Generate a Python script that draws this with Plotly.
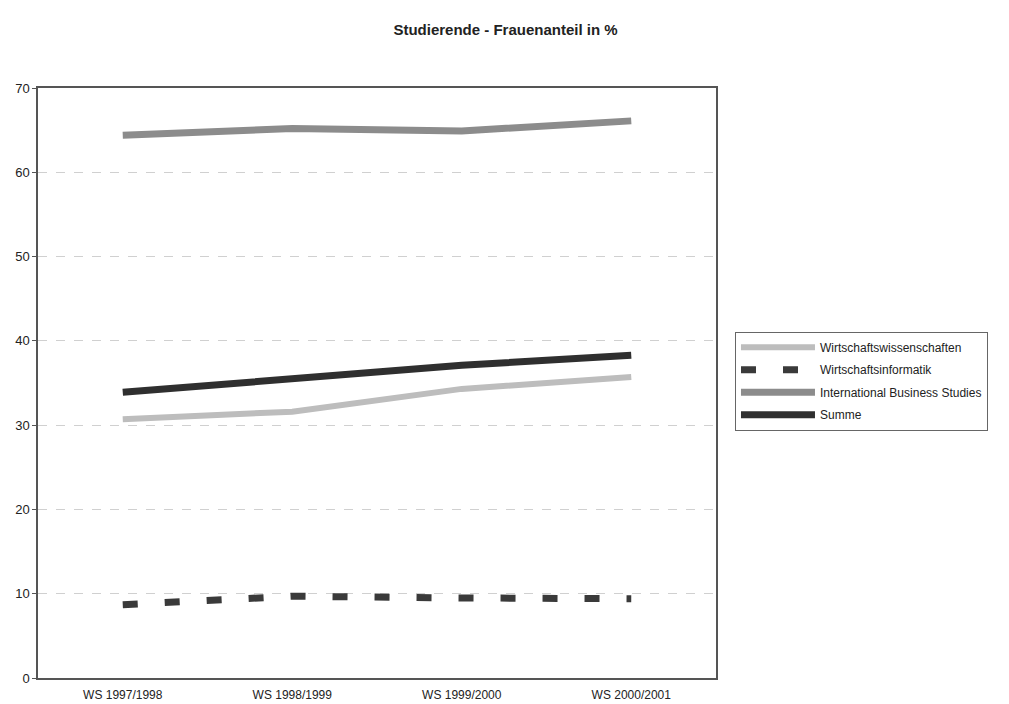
import plotly.graph_objects as go

categories = ["WS 1997/1998", "WS 1998/1999", "WS 1999/2000", "WS 2000/2001"]
wiwi = [30.7, 31.6, 34.3, 35.7]
winf = [8.7, 9.7, 9.5, 9.4]
ibs = [64.4, 65.2, 64.9, 66.1]
summe = [33.9, 35.5, 37.1, 38.3]
yticks = [0, 10, 20, 30, 40, 50, 60, 70]

FONT = "Liberation Sans, Arial, sans-serif"

fig = go.Figure()
fig.add_trace(go.Scatter(x=categories, y=wiwi, mode="lines", name="Wirtschaftswissenschaften",
                         legendgroup="a", line=dict(color="#bdbdbd", width=6)))
fig.add_trace(go.Scatter(x=categories, y=winf, mode="lines", name="Wirtschaftsinformatik",
                         legendgroup="b", line=dict(color="#3a3a3a", width=7, dash="15px,27px")))
fig.add_trace(go.Scatter(x=categories, y=ibs, mode="lines", name="International Business Studies",
                         legendgroup="c", line=dict(color="#8c8c8c", width=7)))
fig.add_trace(go.Scatter(x=categories, y=summe, mode="lines", name="Summe",
                         legendgroup="d", line=dict(color="#2f2f2f", width=7)))

W, H = 1001, 696
fig.update_layout(
    width=W, height=H,
    paper_bgcolor="white", plot_bgcolor="white",
    margin=dict(l=30, r=293, t=80, b=26, autoexpand=False),
    font=dict(family=FONT, size=12, color="#222"),
    title=dict(text="<b>Studierende - Frauenanteil in %</b>", x=0.497, xref="container",
               y=1 - 22 / H, yref="container", yanchor="middle",
               font=dict(family=FONT, size=15, color="#222")),
    showlegend=True,
    legend=dict(x=1.028, y=0.587, xanchor="left", yanchor="top",
                bordercolor="#666", borderwidth=1, bgcolor="white",
                font=dict(family=FONT, size=12, color="#222"),
                itemwidth=74, tracegroupgap=3.5),
)
fig.update_xaxes(range=[-0.5, 3.5], showline=True, linecolor="#555", linewidth=1.5,
                 mirror=True, showgrid=False, ticks="", tickfont=dict(size=12),
                 ticklabelstandoff=5, automargin=False)
fig.update_yaxes(range=[0, 70], tickvals=yticks, showline=True, linecolor="#555", linewidth=1.5,
                 mirror=True, showgrid=True, gridcolor="#d0d0d0", griddash="dash", gridwidth=1,
                 ticks="outside", ticklen=4, tickcolor="#555", zeroline=False,
                 tickfont=dict(size=13), automargin=False)

fig.write_html("out.html")
